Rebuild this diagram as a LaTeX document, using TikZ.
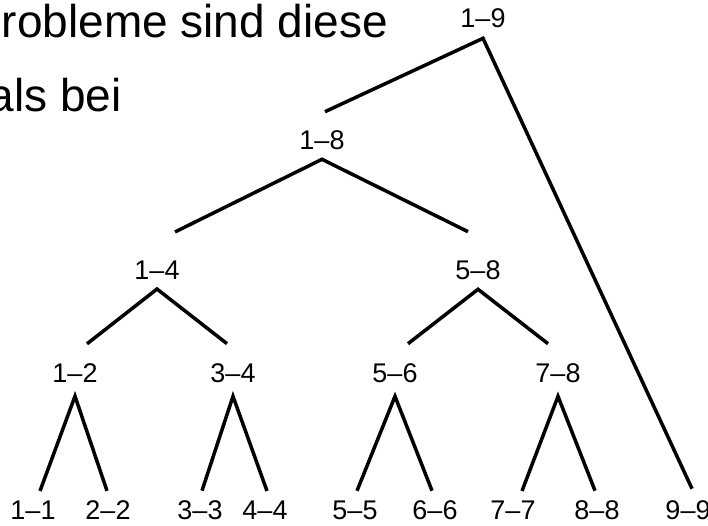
\documentclass[tikz,border=0pt]{standalone}
\usepackage{fontspec}
\setmainfont{Liberation Sans}
\begin{document}
\begin{tikzpicture}[x=1pt,y=1pt,line width=3.5pt,
	lbl/.style={inner sep=0pt,font=\fontsize{27}{27}\selectfont}]
	\clip (0,0) rectangle (708,525);
	% cut off slide text
	\node (t1) [inner sep=0pt,anchor=base west,font=\fontsize{46}{46}\selectfont] at (0,487) {robleme sind diese};
	\node (t2) [inner sep=0pt,anchor=base west,font=\fontsize{46}{46}\selectfont] at (-13,413) {als bei};

	\node (n19) [lbl] at (483,507) {1--9};
	\node (n18) [lbl] at (322,385) {1--8};
	\node (n14) [lbl] at (157,255) {1--4};
	\node (n58) [lbl] at (478,255) {5--8};
	\node (n12) [lbl] at (75,152) {1--2};
	\node (n34) [lbl] at (233,152) {3--4};
	\node (n56) [lbl] at (395,152) {5--6};
	\node (n78) [lbl] at (558,152) {7--8};
	\node (n11) [lbl] at (33,15) {1--1};
	\node (n22) [lbl] at (108,15) {2--2};
	\node (n33) [lbl] at (200,15) {3--3};
	\node (n44) [lbl] at (265,15) {4--4};
	\node (n55) [lbl] at (355,15) {5--5};
	\node (n66) [lbl] at (435,15) {6--6};
	\node (n77) [lbl] at (513,15) {7--7};
	\node (n88) [lbl] at (597,15) {8--8};
	\node (n99) [lbl] at (688,15) {9--9};

	\draw ([shift={(3pt,17pt)}]n18.north) -- ([yshift=-9pt]n19.south) -- ([shift={(4pt,10pt)}]n99.north);
	\draw ([shift={(18pt,27pt)}]n14.north) -- ([yshift=-8pt]n18.south) -- ([shift={(-10pt,27pt)}]n58.north);
	\draw ([shift={(12pt,18pt)}]n12.north) -- ([yshift=-8pt]n14.south) -- ([shift={(-6pt,18pt)}]n34.north);
	\draw ([shift={(13pt,18pt)}]n56.north) -- ([yshift=-8pt]n58.south) -- ([shift={(-10pt,18pt)}]n78.north);
	\draw ([shift={(7pt,8pt)}]n11.north) -- ([yshift=-12pt]n12.south) -- ([shift={(-1pt,8pt)}]n22.north);
	\draw ([shift={(2pt,8pt)}]n33.north) -- ([yshift=-12pt]n34.south) -- ([shift={(2pt,8pt)}]n44.north);
	\draw ([shift={(2pt,8pt)}]n55.north) -- ([yshift=-12pt]n56.south) -- ([shift={(-3pt,8pt)}]n66.north);
	\draw ([shift={(9pt,8pt)}]n77.north) -- ([yshift=-12pt]n78.south) -- ([shift={(-2pt,8pt)}]n88.north);
\end{tikzpicture}
\end{document}
